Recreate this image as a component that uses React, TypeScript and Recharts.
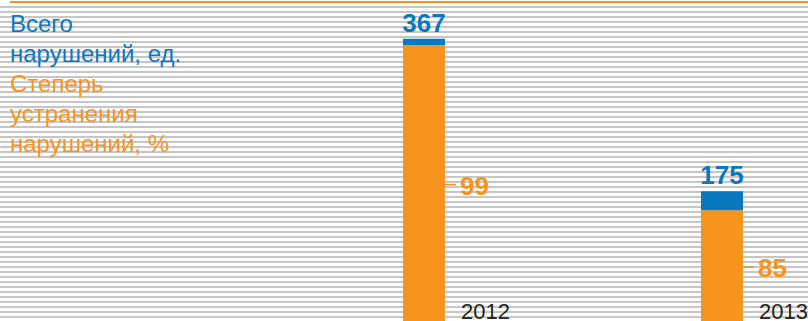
import React from 'react';
import { BarChart, Bar, XAxis, YAxis, LabelList } from 'recharts';

const years = ['2012', '2013'];
const totalViolations = [367, 175];
const eliminationRate = [99, 85];
// stacked parts (orange = eliminated, blue = remaining)
const eliminatedPart = [359, 151];
const remainingPart = [8, 24];

const BLUE = '#0a78be';
const ORANGE = '#f7941d';
const FONT = '"Liberation Sans", Arial, sans-serif';

const data = years.map((year, i) => ({
  year,
  total: totalViolations[i],
  rate: eliminationRate[i],
  eliminated: eliminatedPart[i],
  remaining: remainingPart[i],
}));

const TotalLabel = (props: any) => {
  const { x, y, width, value } = props;
  return (
    <text
      x={x + width / 2}
      y={y - 7}
      textAnchor="middle"
      fill={BLUE}
      fontFamily={FONT}
      fontWeight={700}
      fontSize={26}
    >
      {value}
    </text>
  );
};

const RateLabel = (props: any) => {
  const { x, y, width, height, value } = props;
  const cy = y + height / 2 - 3;
  const right = x + width;
  return (
    <g>
      <line x1={right} x2={right + 11} y1={cy} y2={cy} stroke={ORANGE} strokeWidth={1.5} />
      <text
        x={right + 15}
        y={cy + 1}
        dominantBaseline="central"
        fill={ORANGE}
        fontFamily={FONT}
        fontWeight={700}
        fontSize={26}
      >
        {value}
      </text>
    </g>
  );
};

const YearLabel = (props: any) => {
  const { x, y, width, height, value } = props;
  return (
    <text
      x={x + width + 16}
      y={y + height - 11}
      fill="#231f20"
      fontFamily={FONT}
      fontSize={22}
    >
      {value}
    </text>
  );
};

const App: React.FC = () => {
  return (
    <div
      style={{
        position: 'absolute',
        left: 0,
        top: 0,
        width: 808,
        height: 321,
        overflow: 'hidden',
        background: '#fff',
      }}
    >
      {/* полосатый фон */}
      <div
        style={{
          position: 'absolute',
          left: 0,
          top: 5,
          width: 808,
          height: 316,
          backgroundImage:
            'repeating-linear-gradient(to bottom, transparent 0px, transparent 1px, #c6c6c6 1px, #c6c6c6 3px, transparent 3px, transparent 5px)',
        }}
      />
      <div
        style={{
          position: 'absolute',
          left: 10,
          top: 1,
          width: 798,
          height: 2,
          background: ORANGE,
        }}
      />
      <div
        style={{
          position: 'absolute',
          left: 10,
          top: 9,
          fontFamily: FONT,
          fontSize: 24,
          lineHeight: '30px',
        }}
      >
        <div style={{ color: BLUE }}>Всего</div>
        <div style={{ color: BLUE }}>нарушений, ед.</div>
        <div style={{ color: ORANGE }}>Степерь</div>
        <div style={{ color: ORANGE }}>устранения</div>
        <div style={{ color: ORANGE }}>нарушений, %</div>
      </div>
      <div style={{ position: 'absolute', left: 0, top: 0 }}>
        <BarChart
          width={880}
          height={330}
          data={data}
          margin={{ top: 0, right: 9, bottom: 0, left: 275 }}
        >
          <XAxis dataKey="year" hide />
          <YAxis hide domain={[0, 416]} />
          <Bar dataKey="eliminated" stackId="a" fill={ORANGE} barSize={42} isAnimationActive={false}>
            <LabelList dataKey="rate" content={RateLabel} />
            <LabelList dataKey="year" content={YearLabel} />
          </Bar>
          <Bar dataKey="remaining" stackId="a" fill={BLUE} barSize={42} isAnimationActive={false}>
            <LabelList dataKey="total" content={TotalLabel} />
          </Bar>
        </BarChart>
      </div>
    </div>
  );
};

export default App;
